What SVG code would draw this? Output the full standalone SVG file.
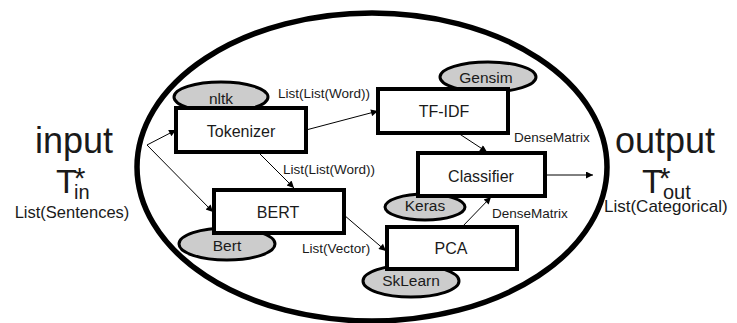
<svg xmlns="http://www.w3.org/2000/svg" width="737" height="323" viewBox="0 0 737 323">
  <style>
    text { font-family: "Liberation Sans", Arial, sans-serif; fill: #1a1a1a; }
    .box { fill: #fff; stroke: #000; stroke-width: 4; }
    .lib { fill: #cccccc; stroke: #000; stroke-width: 3; }
    .edge { stroke: #000; stroke-width: 1; fill: none; marker-end: url(#arrow); }
    .name { font-size: 16px; text-anchor: middle; }
    .libname { font-size: 15.5px; text-anchor: middle; }
    .type { font-size: 13.5px; }
  </style>
  <defs>
    <marker id="arrow" viewBox="0 0 10 10" refX="10" refY="5" markerWidth="9" markerHeight="7" markerUnits="userSpaceOnUse" orient="auto">
      <path d="M0,0 L10,5 L0,10 z" fill="#000"/>
    </marker>
  </defs>

  <rect width="737" height="323" fill="#fff"/>

  <!-- pipeline boundary -->
  <ellipse id="pipeline" cx="372" cy="167" rx="235" ry="154" fill="none" stroke="#000" stroke-width="5.5"/>

  <!-- input side -->
  <g id="input">
    <text x="74" y="153" font-size="36" text-anchor="middle">input</text>
    <text x="56" y="193" font-size="34">T<tspan font-size="30" dx="-3" dy="-5">*</tspan><tspan font-size="20" dx="-11.5" dy="11">in</tspan></text>
    <text x="72" y="218" font-size="16.5" text-anchor="middle">List(Sentences)</text>
  </g>

  <!-- output side -->
  <g id="output">
    <text x="665" y="153" font-size="36" text-anchor="middle">output</text>
    <text x="642" y="193" font-size="34">T<tspan font-size="30" dx="-4" dy="-5">*</tspan><tspan font-size="20" dx="-7.5" dy="11">out</tspan></text>
    <text x="604" y="212" font-size="17">List(Categorical)</text>
  </g>

  <!-- libraries -->
  <g id="nltk"><ellipse class="lib" cx="221" cy="97" rx="47" ry="15"/><text class="libname" x="221" y="104" font-size="16">nltk</text></g>
  <g id="gensim"><ellipse class="lib" cx="488" cy="77" rx="48" ry="15"/><text class="libname" x="486" y="83">Gensim</text></g>
  <g id="keras"><ellipse class="lib" cx="425" cy="207" rx="40" ry="13"/><text class="libname" x="425" y="211">Keras</text></g>
  <g id="sklearn"><ellipse class="lib" cx="411" cy="281" rx="48" ry="16"/><text class="libname" x="411" y="286">SkLearn</text></g>
  <g id="bert-lib"><ellipse class="lib" cx="227" cy="244" rx="48" ry="16"/><text class="libname" x="227" y="251" font-size="16.5">Bert</text></g>

  <!-- processing steps -->
  <g id="tokenizer"><rect class="box" x="176" y="108" width="130" height="44"/><text class="name" x="241" y="137">Tokenizer</text></g>
  <g id="tfidf"><rect class="box" x="378" y="89" width="130" height="44"/><text class="name" x="444" y="117">TF-IDF</text></g>
  <g id="classifier"><rect class="box" x="418" y="153" width="127" height="43"/><text class="name" x="481" y="182">Classifier</text></g>
  <g id="bert"><rect class="box" x="214" y="190" width="130" height="43"/><text class="name" x="278" y="218">BERT</text></g>
  <g id="pca"><rect class="box" x="387" y="227" width="130" height="42"/><text class="name" x="451" y="254">PCA</text></g>

  <!-- data flow -->
  <g id="connectors">
    <line class="edge" x1="147" y1="145" x2="176" y2="130"/>
    <line class="edge" x1="147" y1="145" x2="213" y2="212"/>
    <line class="edge" x1="306" y1="130" x2="378" y2="111"/>
    <line class="edge" x1="258" y1="152" x2="294" y2="188"/>
    <line class="edge" x1="458" y1="133" x2="487" y2="152"/>
    <line class="edge" x1="344" y1="215" x2="386" y2="251"/>
    <line class="edge" x1="462" y1="227" x2="491" y2="197"/>
    <line class="edge" x1="545" y1="175" x2="593" y2="175"/>
    <text class="type" x="278" y="98">List(List(Word))</text>
    <text class="type" x="283" y="174">List(List(Word))</text>
    <text class="type" x="514" y="142">DenseMatrix</text>
    <text class="type" x="492" y="218">DenseMatrix</text>
    <text class="type" x="302" y="253">List(Vector)</text>
  </g>
</svg>
